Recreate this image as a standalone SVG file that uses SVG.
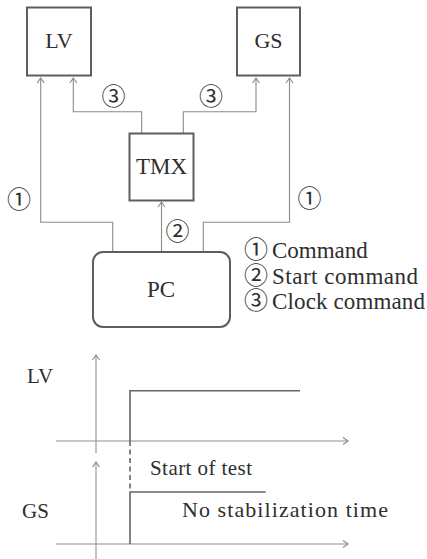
<svg xmlns="http://www.w3.org/2000/svg" width="427" height="559" viewBox="0 0 427 559">
<style>
.box{fill:#fff;stroke:#5e5e5e;stroke-width:2}
.lbl{font-family:'Liberation Serif','Times New Roman',serif;fill:#2e2e2e}
.num{font-family:'Noto Sans CJK JP','DejaVu Sans',sans-serif;fill:#2e2e2e;font-size:24px}
.mid{text-anchor:middle}
.con{fill:none;stroke:#8a8a8a;stroke-width:1.1}
.axis{fill:none;stroke:#909090;stroke-width:1.1}
.sig{fill:none;stroke:#666;stroke-width:1.6}
</style>
<defs>
<marker id="arr" markerUnits="userSpaceOnUse" markerWidth="12" markerHeight="12" viewBox="-6 -6 12 12" refX="0" refY="0" orient="auto">
<path d="M-5,-3.5 L0,0 L-5,3.5" fill="none" stroke="#8a8a8a" stroke-width="1.1"/>
</marker>
</defs>
<rect width="427" height="559" fill="#fff"/>

<g id="connectors">
<path class="con" d="M112.7,252 V222.3 H40.7 V78" marker-end="url(#arr)"/>
<path class="con" d="M141.7,133.5 V111.7 H73.3 V78" marker-end="url(#arr)"/>
<path class="con" d="M183.3,133.5 V111.7 H256 V78" marker-end="url(#arr)"/>
<path class="con" d="M203.3,252 V222.3 H289.5 V78" marker-end="url(#arr)"/>
<path class="con" d="M161.5,252 V202" marker-end="url(#arr)"/>
<text class="num mid" x="113.5" y="104.5">③</text>
<text class="num mid" x="211" y="104.5">③</text>
<text class="num mid" x="19" y="208">①</text>
<text class="num mid" x="309.5" y="206.5">①</text>
<text class="num mid" x="177.5" y="239.5">②</text>
</g>

<g id="node-lv">
<rect class="box" x="27" y="7.5" width="64" height="68"/>
<text class="lbl mid" x="59" y="48" font-size="22">LV</text>
</g>
<g id="node-gs">
<rect class="box" x="237" y="7.5" width="63" height="68"/>
<text class="lbl mid" x="268.5" y="48" font-size="22">GS</text>
</g>
<g id="node-tmx">
<rect class="box" x="129.5" y="133.5" width="64" height="67"/>
<text class="lbl mid" x="161.5" y="174" font-size="23">TMX</text>
</g>
<g id="node-pc">
<rect class="box" x="93" y="252" width="137" height="75" rx="10"/>
<text class="lbl mid" x="161" y="296.7" font-size="23">PC</text>
</g>

<g id="legend">
<text x="244" y="258.3"><tspan class="num">①</tspan><tspan class="lbl" x="272" font-size="23">Command</tspan></text>
<text x="244" y="284"><tspan class="num">②</tspan><tspan class="lbl" x="272" font-size="23" textLength="146" lengthAdjust="spacing">Start command</tspan></text>
<text x="244" y="309.3"><tspan class="num">③</tspan><tspan class="lbl" x="272" font-size="23" textLength="153" lengthAdjust="spacing">Clock command</tspan></text>
</g>

<g id="timing">
<path class="axis" d="M96,453 V355" marker-end="url(#arr)"/>
<path class="axis" d="M56,441 H348" marker-end="url(#arr)"/>
<path class="axis" d="M96,559 V462" marker-end="url(#arr)"/>
<path class="axis" d="M56,544 H348" marker-end="url(#arr)"/>
<path class="sig" d="M130,441 V390.7 H300"/>
<path class="sig" d="M130,544 V492 H265.7"/>
<path class="sig" d="M130,441 V492" stroke-dasharray="5,3.5"/>
<text class="lbl" x="27" y="382.7" font-size="21">LV</text>
<text class="lbl" x="22" y="518.3" font-size="21">GS</text>
<text class="lbl" x="150" y="475" font-size="21" textLength="102" lengthAdjust="spacing">Start of test</text>
<text class="lbl" x="182" y="516.7" font-size="22" textLength="206" lengthAdjust="spacing">No stabilization time</text>
</g>
</svg>
